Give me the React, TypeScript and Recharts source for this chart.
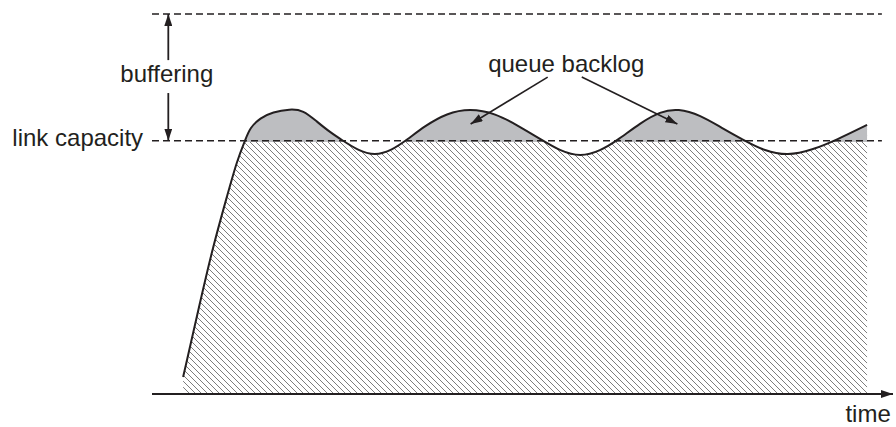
import React from 'react';
import { ComposedChart, Area, XAxis, YAxis, ReferenceLine, ReferenceDot } from 'recharts';

// sending rate over time (capacity = 1)
const time = [4.2, 6.1, 8.1, 10.1, 11.5, 12.6, 13.2, 14.6, 16.3, 18.6, 20.4, 22.3, 24.0, 25.6, 27.7, 30.1, 32.4, 34.4, 36.8, 39.8, 42.9, 46.3, 49.7, 52.6, 55.1, 57.8, 60.5, 62.9, 65.9, 68.6, 71.0, 74.0, 76.9, 79.8, 82.7, 85.8, 89.1, 92.4, 96.5];
const rate = [0.067, 0.312, 0.568, 0.778, 0.924, 1.003, 1.05, 1.09, 1.113, 1.125, 1.121, 1.074, 1.034, 1.003, 0.963, 0.94, 0.963, 1.003, 1.058, 1.109, 1.127, 1.109, 1.054, 1.003, 0.959, 0.936, 0.959, 1.003, 1.07, 1.115, 1.127, 1.101, 1.05, 1.003, 0.959, 0.94, 0.963, 1.003, 1.062];

const CAPACITY = 1;
const BUFFER_TOP = 1.5;
const guideEnd = 98.5;

// annotation arrows
const bufferT = 2.2;
const bufferUpper = [BUFFER_TOP, 1.318];
const bufferLower = [1.188, CAPACITY];
const backlogFrom = [[53.4, 1.251], [58.0, 1.251]];
const backlogTo = [[43.0, 1.066], [70.9, 1.066]];

// text labels
const labelText = ['buffering', 'link capacity', 'queue backlog', 'time'];
const labelPos = [[2.0, 1.232], [-1.2, 0.979], [55.9, 1.271], [99.7, -0.111]];
const labelAnchor = ['middle', 'end', 'middle', 'end'];

const data = time.map((t, i) => ({ t, rate: rate[i] }));
const maxRate = Math.max(...rate);
const capOffset = (maxRate - CAPACITY) / maxRate;

const INK = '#231f20';

const textShape = (text: string, anchor: string) => (props: any) => (
  <text
    x={props.cx}
    y={props.cy}
    textAnchor={anchor}
    fontSize={24}
    fill={INK}
    fontFamily="'Liberation Sans', Arial, sans-serif"
  >
    {text}
  </text>
);

export default function App() {
  return (
    <div>
      <style>{'body{margin:0}'}</style>
      <ComposedChart
        width={896}
        height={427}
        data={data}
        margin={{ top: 14, right: 3, bottom: 33, left: 152 }}
      >
        <defs>
          <pattern id="hatch" width="6" height="6" patternUnits="userSpaceOnUse">
            <path d="M0,0 L6,6 M-1,5 L1,7 M5,-1 L7,1" stroke="#666" strokeWidth="0.85" />
          </pattern>
          <linearGradient id="backlog" x1="0" y1="0" x2="0" y2="1">
            <stop offset={0} stopColor="#bdbec1" stopOpacity={1} />
            <stop offset={capOffset} stopColor="#bdbec1" stopOpacity={1} />
            <stop offset={capOffset} stopColor="#bdbec1" stopOpacity={0} />
            <stop offset={1} stopColor="#bdbec1" stopOpacity={0} />
          </linearGradient>
          <marker
            id="arrowHead"
            viewBox="0 0 12 8"
            refX="12"
            refY="4"
            markerWidth="12"
            markerHeight="8"
            markerUnits="userSpaceOnUse"
            orient="auto-start-reverse"
          >
            <path d="M0,0 L12,4 L0,8 z" fill={INK} />
          </marker>
        </defs>
        <XAxis type="number" dataKey="t" domain={[0, 100]} allowDataOverflow hide />
        <YAxis type="number" domain={[0, BUFFER_TOP]} hide allowDataOverflow />
        <Area
          type="basis"
          dataKey="rate"
          stroke="none"
          fill="url(#hatch)"
          fillOpacity={1}
          isAnimationActive={false}
        />
        <Area
          type="basis"
          dataKey="rate"
          stroke={INK}
          strokeWidth={2}
          fill="url(#backlog)"
          fillOpacity={1}
          isAnimationActive={false}
        />
        <ReferenceLine
          segment={[{ x: 0, y: 0 }, { x: 100, y: 0 }]}
          stroke={INK}
          strokeWidth={2}
          markerEnd="url(#arrowHead)"
        />
        <ReferenceLine
          segment={[{ x: 0, y: BUFFER_TOP }, { x: guideEnd, y: BUFFER_TOP }]}
          stroke={INK}
          strokeWidth={1.5}
          strokeDasharray="7 4"
        />
        <ReferenceLine
          segment={[{ x: 0, y: CAPACITY }, { x: guideEnd, y: CAPACITY }]}
          stroke={INK}
          strokeWidth={1.5}
          strokeDasharray="7 4"
        />
        <ReferenceLine
          segment={[{ x: bufferT, y: bufferUpper[1] }, { x: bufferT, y: bufferUpper[0] }]}
          stroke={INK}
          strokeWidth={1.8}
          markerEnd="url(#arrowHead)"
        />
        <ReferenceLine
          segment={[{ x: bufferT, y: bufferLower[0] }, { x: bufferT, y: bufferLower[1] }]}
          stroke={INK}
          strokeWidth={1.8}
          markerEnd="url(#arrowHead)"
        />
        {backlogFrom.map((f, i) => (
          <ReferenceLine
            key={`bl-${i}`}
            segment={[{ x: f[0], y: f[1] }, { x: backlogTo[i][0], y: backlogTo[i][1] }]}
            stroke={INK}
            strokeWidth={1.6}
            markerEnd="url(#arrowHead)"
          />
        ))}
        {labelText.map((txt, i) => (
          <ReferenceDot
            key={txt}
            x={labelPos[i][0]}
            y={labelPos[i][1]}
            r={0}
            ifOverflow="visible"
            shape={textShape(txt, labelAnchor[i])}
          />
        ))}
      </ComposedChart>
    </div>
  );
}
